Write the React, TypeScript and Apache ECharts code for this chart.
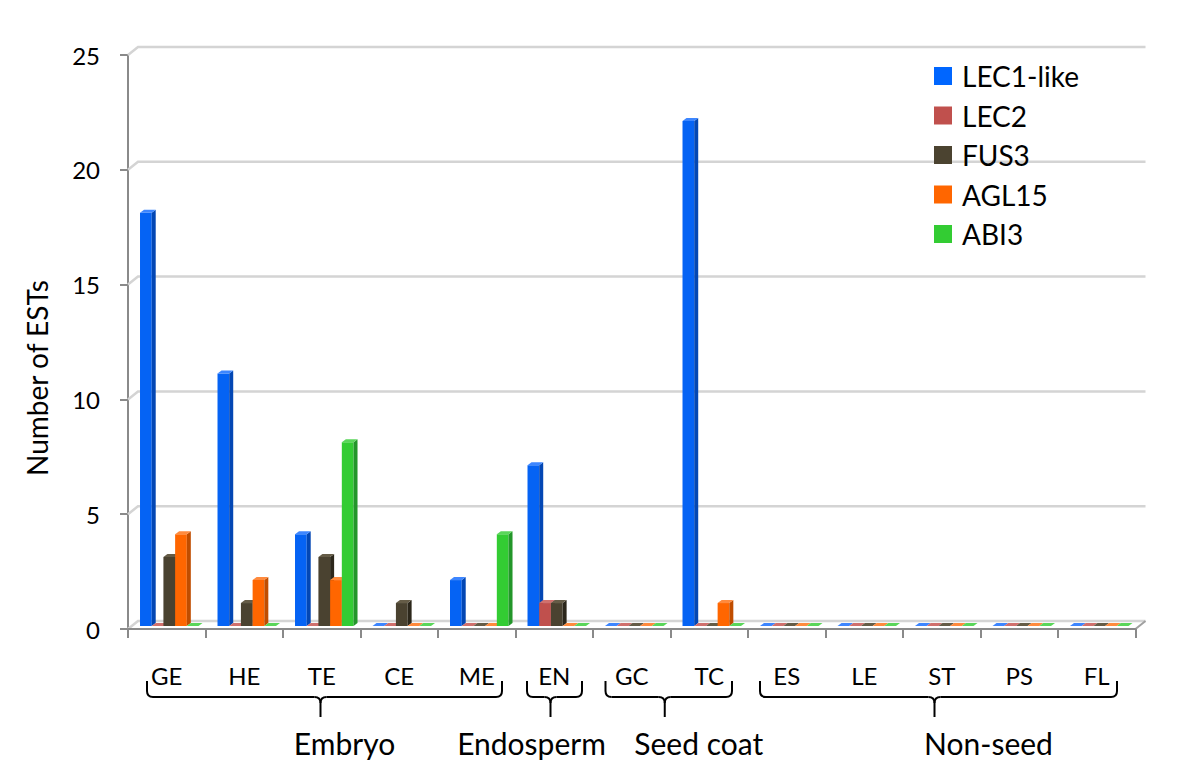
import React, { useEffect, useRef } from "react";
import * as echarts from "echarts";

const categories = ["GE", "HE", "TE", "CE", "ME", "EN", "GC", "TC", "ES", "LE", "ST", "PS", "FL"];
const seriesNames = ["LEC1-like", "LEC2", "FUS3", "AGL15", "ABI3"];
const lec1Like = [18, 11, 4, 0, 2, 7, 0, 22, 0, 0, 0, 0, 0];
const lec2 = [0, 0, 0, 0, 0, 1, 0, 0, 0, 0, 0, 0, 0];
const fus3 = [3, 1, 3, 1, 0, 1, 0, 0, 0, 0, 0, 0, 0];
const agl15 = [4, 2, 2, 0, 0, 0, 0, 1, 0, 0, 0, 0, 0];
const abi3 = [0, 0, 8, 0, 4, 0, 0, 0, 0, 0, 0, 0, 0];
const yTicks = [0, 5, 10, 15, 20, 25];
const groupNames = ["Embryo", "Endosperm", "Seed coat", "Non-seed"];
const groupStart = [0, 5, 6, 8];
const groupEnd = [4, 5, 7, 12];

// styling / layout
const legendColors = ["#0066ff", "#c0504d", "#4b4330", "#ff6600", "#33cc33"];
const frontColors = ["#0563f4", "#c0504d", "#4a4230", "#ff6600", "#33cc33"];
const sideColors = ["#0347b4", "#8e3b39", "#2c271b", "#c04d00", "#23962a"];
const topColors = ["#3d86ff", "#d0706d", "#655c47", "#ff8a3d", "#5ad65a"];
const bracketInsetL = [19, 11.5, 12.5, 12];
const bracketInsetR = [13.5, 11, 16, 18.5];
const labelOffset = [24, -19, 34, 54];
const FONT = "Lato, 'Open Sans', sans-serif";
const DX = 4;
const DY = 3;
const WALL_DX = 10;
const WALL_DY = 8;

export default function App() {
  const ref = useRef<HTMLDivElement>(null);
  useEffect(() => {
    if (!ref.current) return;
    const chart = echarts.init(ref.current, null, { renderer: "svg" });
    const allSeries = [lec1Like, lec2, fus3, agl15, abi3];

    const barSeries = allSeries.map((vals, si) => ({
      type: "custom",
      name: seriesNames[si],
      itemStyle: { color: legendColors[si] },
      data: vals.map((v, i) => [i, v]),
      z: 3,
      renderItem: (params: any, api: any) => {
        const ci = api.value(0);
        const v = api.value(1);
        const catW = api.size([1, 0])[0];
        const center = api.coord([ci, 0]);
        const catStart = center[0] - catW / 2;
        const slot = catW * 0.151;
        const x0 = catStart + catW * 0.155 + si * slot;
        const w = slot;
        const base = center[1] - 3;
        const top = api.coord([ci, v])[1] - 3;
        const children: any[] = [];
        if (top < base - 0.5) {
          children.push({
            type: "rect",
            shape: { x: x0, y: top, width: w, height: base - top },
            style: { fill: frontColors[si] },
          });
          children.push({
            type: "polygon",
            shape: {
              points: [
                [x0 + w, top],
                [x0 + w + DX, top - DY],
                [x0 + w + DX, base - DY],
                [x0 + w, base],
              ],
            },
            style: { fill: sideColors[si] },
          });
        }
        children.push({
          type: "polygon",
          shape: {
            points: [
              [x0, top],
              [x0 + DX, top - DY],
              [x0 + w + DX, top - DY],
              [x0 + w, top],
            ],
          },
          style: { fill: topColors[si] },
        });
        return { type: "group", children };
      },
    }));

    const wallSeries = {
      type: "custom",
      name: "wall",
      silent: true,
      z: 1,
      data: yTicks.map((t) => [0, t]),
      renderItem: (params: any, api: any) => {
        const cs = params.coordSys;
        const y = api.coord([0, api.value(1)])[1];
        const left = cs.x;
        const right = cs.x + cs.width;
        const children: any[] = [
          {
            type: "polyline",
            shape: {
              points: [
                [left, y],
                [left + WALL_DX, y - WALL_DY],
                [right + WALL_DX, y - WALL_DY],
              ],
            },
            style: { stroke: "#d4d4d4", lineWidth: 2.5, fill: null },
          },
        ];
        if (api.value(1) === 0) {
          children.push({
            type: "line",
            shape: { x1: right, y1: y, x2: right + WALL_DX, y2: y - WALL_DY },
            style: { stroke: "#a0a0a0", lineWidth: 2 },
          });
        }
        return { type: "group", children };
      },
    };

    const bracketSeries = {
      type: "custom",
      name: "groups",
      silent: true,
      clip: false,
      z: 5,
      data: groupNames.map((_, g) => [groupStart[g], 0, groupEnd[g], g]),
      renderItem: (params: any, api: any) => {
        const g = api.value(3);
        const catW = api.size([1, 0])[0];
        const x0 = api.coord([api.value(0), 0])[0] - catW / 2 + bracketInsetL[g];
        const x1 = api.coord([api.value(2), 0])[0] + catW / 2 - bracketInsetR[g];
        const xc = (x0 + x1) / 2 - 4;
        const yTop = 681;
        const yH = 697;
        const yTip = 717;
        const r = 6;
        const st = { stroke: "#000", lineWidth: 2, fill: null };
        return {
          type: "group",
          children: [
            { type: "line", shape: { x1: x0, y1: yTop, x2: x0, y2: yH - r }, style: st },
            { type: "bezierCurve", shape: { x1: x0, y1: yH - r, cpx1: x0, cpy1: yH, x2: x0 + r, y2: yH }, style: st },
            { type: "line", shape: { x1: x0 + r, y1: yH, x2: xc - r, y2: yH }, style: st },
            { type: "bezierCurve", shape: { x1: xc - r, y1: yH, cpx1: xc, cpy1: yH, x2: xc, y2: yH + r }, style: st },
            { type: "bezierCurve", shape: { x1: xc + r, y1: yH, cpx1: xc, cpy1: yH, x2: xc, y2: yH + r }, style: st },
            { type: "line", shape: { x1: xc, y1: yH + r, x2: xc, y2: yTip }, style: st },
            { type: "line", shape: { x1: xc + r, y1: yH, x2: x1 - r, y2: yH }, style: st },
            { type: "bezierCurve", shape: { x1: x1 - r, y1: yH, cpx1: x1, cpy1: yH, x2: x1, y2: yH - r }, style: st },
            { type: "line", shape: { x1: x1, y1: yH - r, x2: x1, y2: yTop }, style: st },
            {
              type: "text",
              x: xc + labelOffset[g],
              y: 743,
              style: {
                text: groupNames[g],
                fontSize: 30,
                fontFamily: FONT,
                fill: "#000",
                align: "center",
                verticalAlign: "middle",
              },
            },
          ],
        };
      },
    };

    chart.setOption({
      animation: false,
      backgroundColor: "#ffffff",
      grid: { left: 128, right: 64.5, top: 55, bottom: 142, containLabel: false },
      legend: {
        orient: "vertical",
        left: 929,
        top: 57,
        icon: "rect",
        itemWidth: 18,
        itemHeight: 18,
        itemGap: 11.5,
        data: seriesNames,
        selectedMode: false,
        textStyle: { fontSize: 28, fontFamily: FONT, color: "#000", lineHeight: 28, padding: [0, 0, 0, 5] },
      },
      graphic: [
        {
          type: "text",
          x: 37,
          y: 378,
          rotation: Math.PI / 2,
          style: {
            text: "Number of ESTs",
            fontSize: 28,
            fontFamily: FONT,
            fill: "#000",
            align: "center",
            verticalAlign: "middle",
          },
        },
      ],
      xAxis: {
        type: "category",
        data: categories,
        boundaryGap: true,
        axisLine: { lineStyle: { color: "#8a8a8a", width: 2 } },
        axisTick: { show: true, length: 9, lineStyle: { color: "#8a8a8a", width: 2 } },
        axisLabel: { margin: 34, fontSize: 24, fontFamily: FONT, color: "#000", interval: 0 },
        splitLine: { show: false },
        z: 4,
      },
      yAxis: {
        type: "value",
        min: 0,
        max: 25,
        interval: 5,
        axisLine: { show: true, lineStyle: { color: "#8a8a8a", width: 2 } },
        axisTick: { show: true, length: 8, lineStyle: { color: "#8a8a8a", width: 2 } },
        axisLabel: { margin: 28, fontSize: 24, fontFamily: FONT, color: "#000" },
        splitLine: { show: false },
      },
      series: [wallSeries, ...barSeries, bracketSeries],
    });
    return () => chart.dispose();
  }, []);
  return (
    <div
      ref={ref}
      style={{ position: "absolute", left: 0, top: 0, width: 1200, height: 771, background: "#fff" }}
    />
  );
}
